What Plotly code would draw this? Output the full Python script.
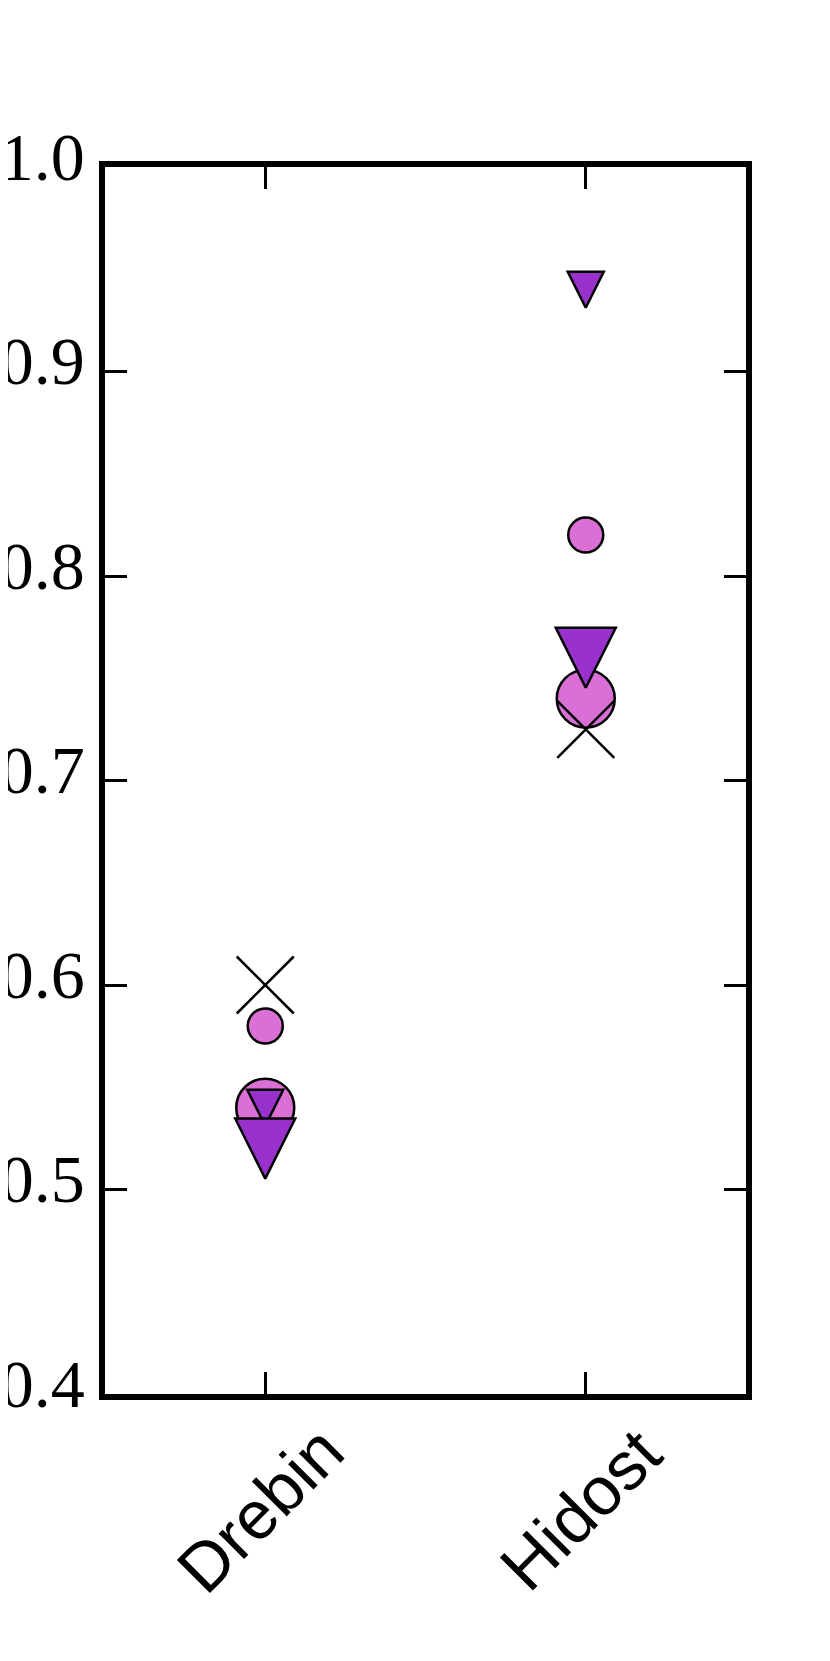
import plotly.graph_objects as go

# categories and values
datasets = ["Drebin", "Hidost"]
x_marks = [0.60, 0.725]
small_circles = [0.58, 0.82]
big_circles = [0.54, 0.74]
small_triangles = [0.54, 0.94]
big_triangles = [0.52, 0.76]

y_ticks = [0.4, 0.5, 0.6, 0.7, 0.8, 0.9, 1.0]
y_range = [0.4, 1.0]

ORCHID = "#DA70D6"
DARK_ORCHID = "#9932CC"
EDGE = dict(color="black", width=2.5)

WIDTH, HEIGHT = 830, 1661
# the page body adds 8px, so margins are trimmed by that on the left/top
MARGIN = dict(l=97, r=92, t=159, b=275, pad=0)

BIG_TRI = 60
SMALL_TRI = 36

# plotly's arrow symbol has its tip on the data point; an overlaid axis with a
# slightly raised range drops it by half its size so it sits centred like a
# matplotlib 'v' marker
units_per_px = (y_range[1] - y_range[0]) / (HEIGHT - MARGIN["t"] - MARGIN["b"])


def shifted(size):
    d = size / 2 * units_per_px
    return [y_range[0] + d, y_range[1] + d]


fig = go.Figure()

# circles first, triangles on top, crosses last
fig.add_trace(go.Scatter(
    x=datasets, y=big_circles, mode="markers", name="big circle",
    marker=dict(symbol="circle", size=58, color=ORCHID, line=EDGE)
))
fig.add_trace(go.Scatter(
    x=datasets, y=small_circles, mode="markers", name="small circle",
    marker=dict(symbol="circle", size=35, color=ORCHID, line=EDGE)
))
fig.add_trace(go.Scatter(
    x=datasets, y=big_triangles, mode="markers", name="big triangle",
    yaxis="y3",
    marker=dict(symbol="arrow-down", size=BIG_TRI, color=DARK_ORCHID, line=EDGE)
))
fig.add_trace(go.Scatter(
    x=datasets, y=small_triangles, mode="markers", name="small triangle",
    yaxis="y2",
    marker=dict(symbol="arrow-down", size=SMALL_TRI, color=DARK_ORCHID, line=EDGE)
))
fig.add_trace(go.Scatter(
    x=datasets, y=x_marks, mode="markers", name="cross",
    marker=dict(symbol="x-thin-open", size=57, color="black",
                line=dict(color="black", width=2.5))
))

# rotated category labels, centred under each tick
for name in datasets:
    fig.add_annotation(
        x=name, xref="x", y=-0.094, yref="paper", xshift=-5,
        text=name, textangle=-45, showarrow=False,
        xanchor="center", yanchor="middle",
        font=dict(family="Liberation Sans", size=68, color="black")
    )

fig.update_xaxes(
    type="category",
    range=[-0.5, 1.5],
    showticklabels=False,
    ticks="inside", ticklen=22, tickwidth=2.5, tickcolor="black",
    showline=True, linewidth=5.5, linecolor="black", mirror="ticks",
    showgrid=False, zeroline=False
)

fig.update_layout(
    width=WIDTH, height=HEIGHT,
    margin=MARGIN,
    plot_bgcolor="white", paper_bgcolor="white",
    showlegend=False,
    yaxis=dict(
        range=y_range,
        tickvals=y_ticks, tickformat=".1f",
        ticks="inside", ticklen=22, tickwidth=2.5, tickcolor="black",
        showline=True, linewidth=5.5, linecolor="black", mirror="ticks",
        showgrid=False, zeroline=False,
        automargin=False,
        ticklabelstandoff=1, ticklabelshift=-11,
        tickfont=dict(family="Liberation Serif", size=68, color="black")
    ),
    yaxis2=dict(overlaying="y", range=shifted(SMALL_TRI), visible=False),
    yaxis3=dict(overlaying="y", range=shifted(BIG_TRI), visible=False),
)

fig.write_html("out.html")
